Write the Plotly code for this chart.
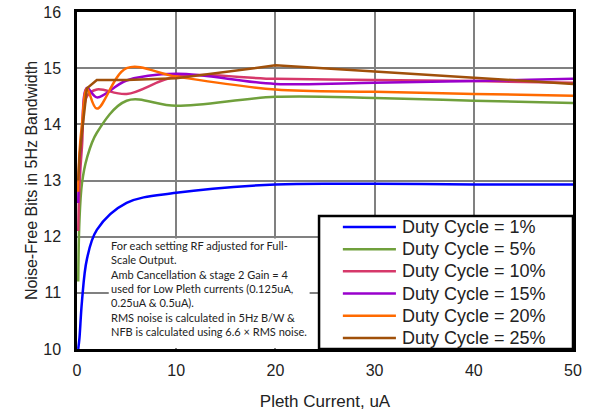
import plotly.graph_objects as go

# Pleth current (uA) at which noise was measured
current_ua = [0.125, 0.25, 0.5, 1, 2, 5, 10, 20, 30, 40, 50]

# Noise-free bits in 5 Hz bandwidth for each duty cycle
nfb_dc1 = [10.0, 10.2, 10.85, 11.6, 12.12, 12.6, 12.78, 12.93, 12.94, 12.93, 12.93]
nfb_dc5 = [11.2, 12.3, 12.95, 13.4, 13.85, 14.42, 14.33, 14.49, 14.47, 14.42, 14.38]
nfb_dc10 = [12.1, 12.9, 13.6, 14.5, 14.62, 14.54, 14.85, 14.81, 14.79, 14.77, 14.74]
nfb_dc15 = [12.6, 13.3, 13.9, 14.65, 14.48, 14.78, 14.9, 14.72, 14.74, 14.77, 14.81]
nfb_dc20 = [12.8, 13.5, 14.0, 14.64, 14.28, 15.0, 14.85, 14.62, 14.58, 14.54, 14.51]
nfb_dc25 = [13.0, 13.4, 13.85, 14.64, 14.79, 14.79, 14.82, 15.05, 14.94, 14.83, 14.72]

series_names = ["Duty Cycle = 1%", "Duty Cycle = 5%", "Duty Cycle = 10%",
                "Duty Cycle = 15%", "Duty Cycle = 20%", "Duty Cycle = 25%"]
series_values = [nfb_dc1, nfb_dc5, nfb_dc10, nfb_dc15, nfb_dc20, nfb_dc25]
series_colors = ["#0000ff", "#70a03c", "#d6386a", "#9900cc", "#ff6a00", "#a0500a"]
series_shapes = ["spline", "spline", "spline", "spline", "spline", "linear"]

x_ticks = [0, 10, 20, 30, 40, 50]
y_ticks = [10, 11, 12, 13, 14, 15, 16]

note_lines = [
    "For each setting RF adjusted for Full-",
    "Scale Output.",
    "Amb Cancellation & stage 2 Gain = 4",
    "used for Low Pleth currents (0.125uA,",
    "0.25uA & 0.5uA).",
    "RMS noise is calculated in 5Hz B/W &",
    "NFB is calculated using 6.6 \u00d7 RMS noise.",
]

fig = go.Figure()
for name, vals, col, shp in zip(series_names, series_values, series_colors, series_shapes):
    fig.add_trace(go.Scatter(
        x=current_ua, y=vals, name=name, mode="lines", showlegend=False,
        line=dict(color=col, width=2.5, shape=shp, smoothing=1.0),
    ))

axis_font = dict(family="Liberation Sans, Arial", size=16, color="#222")

fig.update_layout(
    width=594, height=415,
    margin=dict(l=77, r=21, t=12, b=66),
    paper_bgcolor="white", plot_bgcolor="white",
    font=axis_font,
    xaxis=dict(
        range=[0, 50], tickvals=x_ticks, showgrid=True,
        gridcolor="#808080", gridwidth=1.5, automargin=False,
        showline=True, linecolor="black", linewidth=2.5, mirror=True,
        ticks="", ticklabelstandoff=5, zeroline=False,
        title=dict(text="Pleth Current, uA", font=dict(size=17), standoff=18),
    ),
    yaxis=dict(
        range=[10, 16], tickvals=y_ticks, showgrid=True,
        gridcolor="#808080", gridwidth=1.5, automargin=False,
        showline=True, linecolor="black", linewidth=2.5, mirror=True,
        ticks="", ticklabelstandoff=10, zeroline=False,
        title=dict(text="Noise-Free Bits in 5Hz Bandwidth", font=dict(size=16), standoff=2),
    ),
)

# White note box with explanatory text
fig.add_shape(type="rect", xref="paper", yref="paper",
              x0=0.064, x1=0.469, y0=0.003, y1=0.328,
              fillcolor="white", line=dict(width=0), layer="above")
fig.add_annotation(
    xref="paper", yref="paper", x=0.064, y=0.332,
    xanchor="left", yanchor="top", align="left", showarrow=False,
    text="<br>".join(note_lines),
    font=dict(family="Lato, Open Sans", size=11, color="#222"),
)

# Legend panel: framed box in the lower-right corner of the plot
leg_x0, leg_x1, leg_y0, leg_y1 = 0.488, 1.0, 0.0, 0.395
fig.add_shape(type="rect", xref="paper", yref="paper",
              x0=leg_x0, x1=leg_x1, y0=leg_y0, y1=leg_y1,
              fillcolor="white", line=dict(color="black", width=2.5), layer="above")
row_top, row_step = 0.362, 0.0658
for i, (name, col) in enumerate(zip(series_names, series_colors)):
    ry = row_top - i * row_step
    fig.add_shape(type="line", xref="paper", yref="paper",
                  x0=0.536, x1=0.643, y0=ry, y1=ry,
                  line=dict(color=col, width=2.5), layer="above")
    fig.add_annotation(xref="paper", yref="paper", x=0.652, y=ry,
                       xanchor="left", yanchor="middle", showarrow=False,
                       text=name,
                       font=dict(family="Liberation Sans, Arial", size=18, color="#222"))

fig.write_html("out.html")
